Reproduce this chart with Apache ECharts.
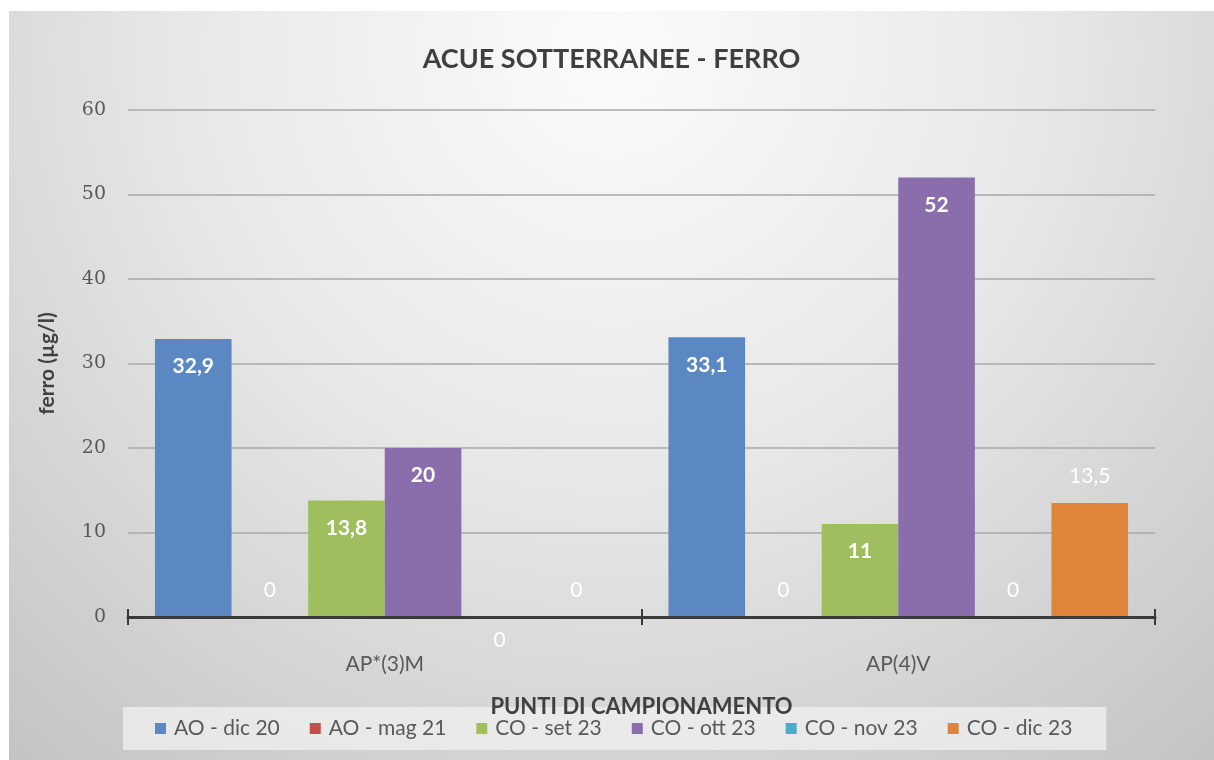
<!DOCTYPE html>
<html>
<head>
<meta charset="utf-8">
<script src="https://cdn.jsdelivr.net/npm/echarts@6/dist/echarts.min.js"></script>
<style>
html,body{margin:0;padding:0;background:#ffffff;}
#chart{position:absolute;left:9px;top:11px;width:1205px;height:749px;}
</style>
</head>
<body>
<div id="chart"></div>
<script>
var categories = ['AP*(3)M', 'AP(4)V'];
var seriesNames = ['AO - dic 20', 'AO - mag 21', 'CO - set 23', 'CO - ott 23', 'CO - nov 23', 'CO - dic 23'];
var aoDic20 = [32.9, 33.1];
var aoMag21 = [0, 0];
var coSet23 = [13.8, 11];
var coOtt23 = [20, 52];
var coNov23 = [0, 0];
var coDic23 = [0, 13.5];
var yTicks = [0, 10, 20, 30, 40, 50, 60];

var values = [aoDic20, aoMag21, coSet23, coOtt23, coNov23, coDic23];
var colors = ['#5b88c3', '#c0504d', '#9fbf5f', '#8a6eab', '#4bacc6', '#e0843a'];
var FONT = 'Lato';

function fmt(v) { return String(v).replace('.', ','); }

function labelFor(sIdx, cIdx, v) {
  // Excel-style label placement as seen in the reference
  if (v === 0) {
    if (sIdx === 4 && cIdx === 0) {
      return { position: 'insideTop', distance: 13, fontWeight: 'normal' };
    }
    return { position: 'top', distance: 16, fontWeight: 'normal' };
  }
  if (sIdx === 5) {
    return { position: 'top', distance: 16, fontWeight: 'normal' };
  }
  return { position: 'insideTop', distance: 17, fontWeight: 'bold' };
}

var series = values.map(function (arr, sIdx) {
  return {
    name: seriesNames[sIdx],
    type: 'bar',
    barGap: '0%',
    barCategoryGap: '10.5%',
    itemStyle: { color: colors[sIdx] },
    label: {
      show: true,
      color: '#ffffff',
      fontFamily: FONT,
      fontSize: 21,
      formatter: function (p) { return fmt(p.value); }
    },
    data: arr.map(function (v, cIdx) {
      return { value: v, label: labelFor(sIdx, cIdx, v) };
    })
  };
});

var chart = echarts.init(document.getElementById('chart'));
chart.setOption({
  backgroundColor: {
    type: 'radial', x: 0.5, y: 0.05, r: 1.25,
    colorStops: [
      { offset: 0, color: '#fbfbfb' },
      { offset: 0.45, color: '#e8e8e8' },
      { offset: 1, color: '#c3c3c3' }
    ]
  },
  animation: false,
  title: {
    text: 'ACUE SOTTERRANEE - FERRO',
    left: 'center',
    top: 30,
    textStyle: { fontFamily: FONT, fontSize: 27, fontWeight: 'bold', color: '#3f3f3f' }
  },
  legend: {
    data: seriesNames,
    left: 114,
    top: 696,
    z: 1,
    icon: 'rect',
    itemWidth: 11,
    itemHeight: 11,
    itemGap: 30,
    padding: [11, 34, 11, 32],
    backgroundColor: 'rgba(240,240,240,0.75)',
    textStyle: { fontFamily: FONT, fontSize: 21, color: '#595959', padding: [0, 0, 0, 3] }
  },
  grid: { left: 119, right: 59, top: 99, bottom: 143 },
  xAxis: [{
    type: 'category',
    data: categories,
    z: 5,
    name: 'PUNTI DI CAMPIONAMENTO',
    nameLocation: 'middle',
    nameGap: 79,
    nameTextStyle: { fontFamily: FONT, fontSize: 22, fontWeight: 'bold', color: '#404040' },
    axisLine: { lineStyle: { color: '#3a3a3a', width: 3 } },
    axisTick: { show: true, length: 8, lineStyle: { color: '#3a3a3a', width: 2 } },
    axisLabel: { margin: 37, fontFamily: FONT, fontSize: 21, color: '#595959' }
  }, {
    type: 'category',
    data: categories,
    position: 'bottom',
    z: 5,
    axisLine: { show: false },
    axisTick: { show: true, inside: true, length: 8, lineStyle: { color: '#3a3a3a', width: 2 } },
    axisLabel: { show: false }
  }],
  yAxis: {
    type: 'value',
    min: yTicks[0],
    max: yTicks[yTicks.length - 1],
    interval: yTicks[1] - yTicks[0],
    name: 'ferro (µg/l)',
    nameLocation: 'middle',
    nameGap: 70,
    nameTextStyle: { fontFamily: FONT, fontSize: 21, fontWeight: 'bold', color: '#404040' },
    axisLine: { show: false },
    axisTick: { show: false },
    axisLabel: { margin: 22, fontFamily: 'DejaVu Serif', fontSize: 19, color: '#595959' },
    splitLine: { lineStyle: { color: '#a9a9a9', width: 1.5 } }
  },
  series: series
});
</script>
</body>
</html>
